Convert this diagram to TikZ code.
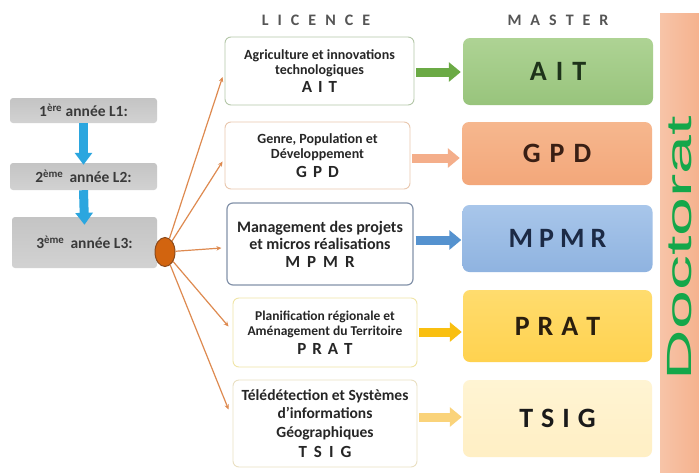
\documentclass[tikz,border=0pt]{standalone}
\usepackage{fontspec}
\setmainfont{Carlito}
\newfontfamily\docfont{Liberation Sans}
\usepackage{graphicx}
\usetikzlibrary{arrows.meta,shapes.geometric}
\definecolor{txt}{HTML}{262626}
\definecolor{yeartxt}{HTML}{3A3A3A}
\definecolor{grayA}{HTML}{C4C4C4}
\definecolor{grayB}{HTML}{D2D2D2}
\definecolor{bluearr}{HTML}{2BA6DF}
\definecolor{orln}{HTML}{DE8A50}
\definecolor{ellfill}{HTML}{D2640F}
\definecolor{elldraw}{HTML}{8B4A1C}
\definecolor{bdA}{HTML}{B4C7A8}
\definecolor{bdG}{HTML}{E9C7AE}
\definecolor{bdM}{HTML}{8493AA}
\definecolor{bdP}{HTML}{F0E5A6}
\definecolor{bdT}{HTML}{EAE0C2}
\definecolor{mAITa}{HTML}{AED394}
\definecolor{mAITb}{HTML}{98C47C}
\definecolor{mGPDa}{HTML}{F6B78E}
\definecolor{mGPDb}{HTML}{F3A77A}
\definecolor{mMPMRa}{HTML}{A8C6EA}
\definecolor{mMPMRb}{HTML}{8FB3E0}
\definecolor{mPRATa}{HTML}{FFDC6E}
\definecolor{mPRATb}{HTML}{FFD24F}
\definecolor{mTSIGa}{HTML}{FFF4D3}
\definecolor{mTSIGb}{HTML}{FFEFC4}
\definecolor{arAIT}{HTML}{6BAA45}
\definecolor{arGPD}{HTML}{F4AE8A}
\definecolor{arMPMR}{HTML}{5592CF}
\definecolor{arPRAT}{HTML}{F9BF10}
\definecolor{arTSIG}{HTML}{FAD37A}
\definecolor{docgreen}{HTML}{14A74A}
\definecolor{barL}{HTML}{F7C4A8}
\definecolor{barM}{HTML}{FDE8DD}
\definecolor{barR}{HTML}{F5B28E}
\definecolor{headtxt}{HTML}{555555}
\definecolor{tAIT}{HTML}{1E331A}
\definecolor{tGPD}{HTML}{3A1F14}
\definecolor{tMPMR}{HTML}{1C2A45}
\definecolor{tPRAT}{HTML}{2A1E0E}
\definecolor{tTSIG}{HTML}{1A1A1A}
\begin{document}
\begin{tikzpicture}[x=1pt,y=-1pt,
  yearbox/.style={rectangle, rounded corners=3pt, top color=grayA, bottom color=grayB,
    inner sep=0pt, text=yeartxt, font=\bfseries\fontsize{15.5}{17}\selectfont},
  licbox/.style={rectangle, rounded corners=6pt, fill=white, line width=0.9pt,
    align=center, inner sep=0pt, text=txt},
  masbox/.style={rectangle, rounded corners=7pt, inner sep=0pt,
    font=\bfseries\fontsize{28}{30}\selectfont},
  blockarrow/.style={line width=9pt, -{Triangle[length=12pt,width=19pt]}},
  vblockarrow/.style={line width=9pt, draw=bluearr, -{Triangle[length=12pt,width=17pt]}},
  orline/.style={draw=orln, line width=1.2pt, -{Stealth[length=5pt,width=4.5pt]}},
  headline/.style={text=headtxt, font=\bfseries\fontsize{16}{18}\selectfont, inner sep=0pt}
]
\useasboundingbox (0,0) rectangle (699,472);
\fill[white] (0,0) rectangle (699,472);

% Doctorat bar
\shade[left color=barL, middle color=barM, right color=barR] (660,13) rectangle (699,472);
\node[rotate=90, inner sep=0pt, text=docgreen, font=\docfont\fontsize{35}{35}\selectfont] (doc) at (680,248) {\scalebox{2}[1]{Doctorat}};

% headers
\node[headline] (lic) at (316,20) {L\hspace{9pt}I\hspace{9pt}C\hspace{9pt}E\hspace{9pt}N\hspace{9pt}C\hspace{9pt}E};
\node[headline] (mas) at (558,20) {M\hspace{9pt}A\hspace{9pt}S\hspace{9pt}T\hspace{9pt}E\hspace{9pt}R};

% years
\node[yearbox, minimum width=147pt, minimum height=25pt] (L1) at (83.5,110.5) {1\textsuperscript{ère} année L1:};
\node[yearbox, minimum width=147pt, minimum height=27pt] (L2) at (83.5,176.5) {2\textsuperscript{ème}\, année L2:};
\draw[vblockarrow] (L1.south) -- ([yshift=-2pt]L2.north);
\node[yearbox, minimum width=145pt, minimum height=51pt] (L3) at (84.5,242.5) {3\textsuperscript{ème}\, année L3:};
\draw[vblockarrow] (L2.south) -- ([yshift=-8pt]L3.north);
\node[ellipse, fill=ellfill, draw=elldraw, line width=1pt, minimum width=20pt, minimum height=29pt, inner sep=0pt] (E) at (165,252) {};

% licence boxes
\node[licbox, draw=bdA, minimum width=189pt, minimum height=68pt, font=\bfseries\fontsize{14}{15.5}\selectfont] (A) at (319.5,71)
  {Agriculture et innovations\\technologiques\\[2pt]{\fontsize{17}{17}\selectfont A\hspace{6pt}I\hspace{6pt}T}};
\node[licbox, draw=bdG, minimum width=185pt, minimum height=67pt, font=\bfseries\fontsize{14}{15.5}\selectfont] (G) at (317.5,155.5)
  {Genre, Population et\\Développement\\[3pt]{\fontsize{17}{17}\selectfont G\hspace{6pt}P\hspace{6pt}D}};
\node[licbox, draw=bdM, line width=1.2pt, minimum width=186pt, minimum height=82pt, font=\bfseries\fontsize{16}{17.5}\selectfont] (M) at (320,244)
  {Management des projets\\et micros réalisations\\{\fontsize{17}{17}\selectfont M\hspace{7pt}P\hspace{7pt}M\hspace{7pt}R}};
\node[licbox, draw=bdP, minimum width=184pt, minimum height=69pt, font=\bfseries\fontsize{13.5}{15}\selectfont] (P) at (325,332.5)
  {Planification régionale et\\Aménagement du Territoire\\[4pt]{\fontsize{17}{17}\selectfont P\hspace{6pt}R\hspace{6pt}A\hspace{6pt}T}};
\node[licbox, draw=bdT, minimum width=184pt, minimum height=87pt, font=\bfseries\fontsize{15.5}{18.5}\selectfont] (T) at (325,423.5)
  {Télédétection et Systèmes\\d'informations\\Géographiques\\[2pt]{\fontsize{17}{17}\selectfont T\hspace{7pt}S\hspace{7pt}I\hspace{7pt}G}};

% connectors from ellipse
\draw[orline] (E) -- ([yshift=-6pt,xshift=-2pt]A.west);
\draw[orline] (E) -- ([yshift=-6pt,xshift=-2pt]G.west);
\draw[orline] (E) -- ([yshift=-4pt,xshift=-5pt]M.west);
\draw[orline] (E) -- ([yshift=6pt,xshift=-4pt]P.west);
\draw[orline] (E) -- ([yshift=14pt,xshift=-4pt]T.west);

% master boxes
\node[masbox, top color=mAITa, bottom color=mAITb, minimum width=190pt, minimum height=67pt, text=tAIT] (mA) at (558,71.5) {A\hspace{9pt}I\hspace{9pt}T};
\node[masbox, top color=mGPDa, bottom color=mGPDb, minimum width=190pt, minimum height=63pt, text=tGPD] (mG) at (557,153.5) {G\hspace{9pt}P\hspace{9pt}D};
\node[masbox, top color=mMPMRa, bottom color=mMPMRb, minimum width=190pt, minimum height=67pt, text=tMPMR] (mM) at (557.5,238.5) {M\hspace{6pt}P\hspace{6pt}M\hspace{6pt}R};
\node[masbox, top color=mPRATa, bottom color=mPRATb, minimum width=189pt, minimum height=72pt, text=tPRAT] (mP) at (557.5,326) {P\hspace{8pt}R\hspace{8pt}A\hspace{8pt}T};
\node[masbox, top color=mTSIGa, bottom color=mTSIGb, minimum width=189pt, minimum height=77pt, text=tTSIG] (mT) at (557.5,418.5) {T\hspace{8pt}S\hspace{8pt}I\hspace{8pt}G};

% block arrows licence -> master
\draw[blockarrow, draw=arAIT] ([xshift=2pt]A.east |- 0,72) -- ([xshift=-2pt]mA.west |- 0,72);
\draw[blockarrow, draw=arGPD] ([xshift=2pt]G.east |- 0,158) -- ([xshift=-2pt]mG.west |- 0,158);
\draw[blockarrow, draw=arMPMR] ([xshift=2pt]M.east |- 0,240) -- ([xshift=-1pt]mM.west |- 0,240);
\draw[blockarrow, draw=arPRAT] ([xshift=2pt]P.east |- 0,332) -- ([xshift=-1pt]mP.west |- 0,332);
\draw[blockarrow, draw=arTSIG] ([xshift=2pt]T.east |- 0,417) -- ([xshift=-1pt]mT.west |- 0,417);
\end{tikzpicture}
\end{document}
